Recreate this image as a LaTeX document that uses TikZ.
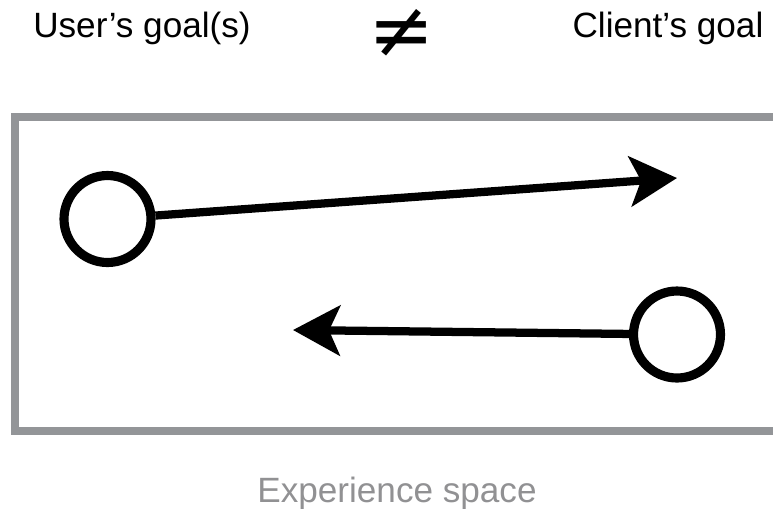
\documentclass[tikz,border=0pt]{standalone}
\usepackage{fontspec}
\setmainfont{Liberation Sans}
\newfontfamily\symfont{DejaVu Sans}
\usepackage{tikz}
\usetikzlibrary{arrows.meta, positioning}
\definecolor{framegray}{RGB}{147, 149, 152}
\definecolor{labelgray}{RGB}{145, 145, 147}

\begin{document}
\begin{tikzpicture}[
    x=0.02cm, y=-0.02cm,
    goal/.style={draw, circle, line width=5.2pt, minimum size=1.74cm, inner sep=0pt},
    title/.style={font=\fontsize{20}{24}\selectfont, anchor=base},
    arrow/.style={line width=4.7pt, -{Stealth[length=0.94cm, width=1cm, inset=0.22cm]}}
]
    \useasboundingbox (0,0) rectangle (773,508);
    % experience space frame, open to the right
    \draw[framegray, line width=4.55pt] (800,117) -- (15,117) -- (15,431) -- (800,431);

    \node[title] (usergoal) at (142,37) {User’s goal(s)};
    \node[font=\symfont\fontsize{45}{45}\selectfont, inner sep=0pt] (neq) at (402,33) {≠};
    \node[title] (clientgoal) at (668,37) {Client’s goal};
    \node[title, text=labelgray] (space) at (397,502) {Experience space};

    \node[goal] (user) at (107.5,219) {};
    \node[goal] (client) at (677,334.5) {};
    \coordinate (userend) at (677,178);
    \coordinate (clientend) at (293,330);

    \draw[arrow] (user) -- (userend);
    \draw[arrow] (client) -- (clientend);
\end{tikzpicture}
\end{document}
